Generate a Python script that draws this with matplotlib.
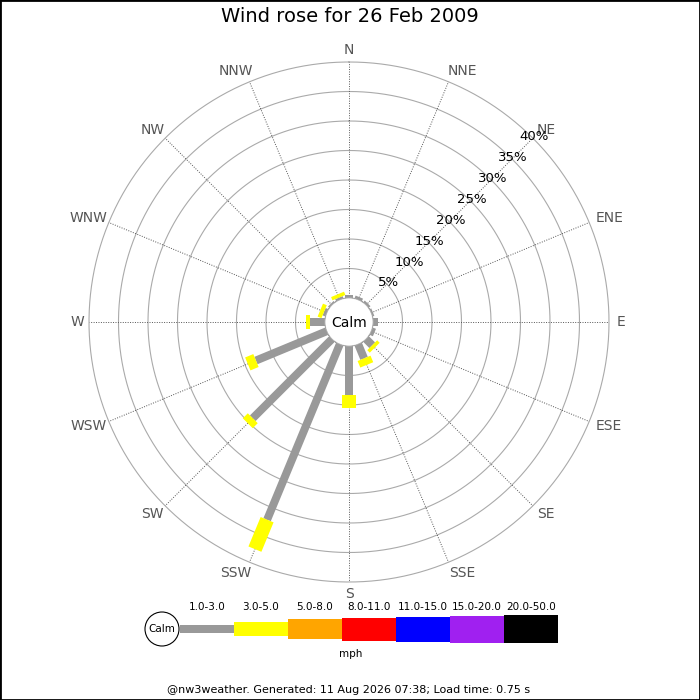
import numpy as np
import matplotlib.pyplot as plt
from matplotlib.patches import Circle, Rectangle
from matplotlib.transforms import offset_copy

# wind rose data, % of the day per direction and speed band
directions = ['N', 'NNE', 'NE', 'ENE', 'E', 'ESE', 'SE', 'SSE',
              'S', 'SSW', 'SW', 'WSW', 'W', 'WNW', 'NW', 'NNW']
pct_1_3 = [0.5, 0.5, 0.4, 0.3, 0.9, 0.6, 1.5, 2.6, 8.3, 32.2, 19.0, 13.0, 2.5, 0.5, 0.3, 0.4]
pct_3_5 = [0, 0, 0, 0, 0, 0, 0.6, 1.2, 2.2, 5.4, 1.2, 1.5, 0.7, 0.7, 0, 0.6]
pct_5_8 = [0] * 16
pct_8_11 = [0] * 16
pct_11_15 = [0] * 16
pct_15_20 = [0] * 16
pct_20_50 = [0] * 16

band_labels = ['1.0-3.0', '3.0-5.0', '5.0-8.0', '8.0-11.0', '11.0-15.0', '15.0-20.0', '20.0-50.0']
band_colors = ['#999999', '#ffff00', '#ffa500', '#ff0000', '#0000ff', '#a020f0', '#000000']
band_px = [8, 14, 20, 23, 25, 27, 28]
ring_pcts = [5, 10, 15, 20, 25, 30, 35, 40]

freq = [pct_1_3, pct_3_5, pct_5_8, pct_8_11, pct_11_15, pct_15_20, pct_20_50]

DPI = 100
PT = 72.0 / DPI           # points per pixel
PX_PER_PCT = 5.9
CALM_PX = 24
CX, CY = 349, 322
R_OUT = CALM_PX + 40 * PX_PER_PCT

fig = plt.figure(figsize=(7, 7), dpi=DPI)
fig.patch.set_facecolor('white')

ax = fig.add_axes([(CX - R_OUT) / 700, (700 - CY - R_OUT) / 700,
                   2 * R_OUT / 700, 2 * R_OUT / 700], projection='polar')
ax.set_theta_zero_location('N')
ax.set_theta_direction(-1)
ax.set_ylim(0, 40)
ax.set_rorigin(-CALM_PX / PX_PER_PCT)
ax.set_xticks([])
ax.set_yticks([])
ax.grid(False)
for s in ax.spines.values():
    s.set_visible(False)

thetas = np.deg2rad(np.arange(16) * 22.5)
circ = np.linspace(0, 2 * np.pi, 400)

# rings
for r in ring_pcts:
    ax.plot(circ, np.full_like(circ, r), color='#aaaaaa', lw=0.8, zorder=1, clip_on=False)

# spokes + direction labels
for t, name in zip(thetas, directions):
    ax.plot([t, t], [0, 40], color='#555555', lw=0.7, ls=(0, (1, 1.5)), zorder=1)
    sx = np.sin(t)
    side = 0 if abs(sx) < 0.01 else np.sign(sx)
    trans = offset_copy(ax.transData, fig=fig, x=side * (len(name) - 1) * 4.5, y=0, units='dots')
    ax.text(t, 42.0, name, color='#555555', fontsize=10, transform=trans,
            ha='center', va='center', clip_on=False)

# percentage labels along NE
for r in ring_pcts:
    ax.text(np.deg2rad(45), r + 0.3, f'{r}%', fontsize=9.5, color='black',
            ha='center', va='center', zorder=3)

# bars
for i, t in enumerate(thetas):
    start = 0
    for b in range(len(freq)):
        v = freq[b][i]
        if v > 0:
            ax.plot([t, t], [start, start + v], color=band_colors[b],
                    lw=band_px[b] * PT, solid_capstyle='butt', zorder=4 + b)
            start += v

# overlay in pixel units for calm circle, legend and text
ov = fig.add_axes([0, 0, 1, 1])
ov.set_xlim(0, 700)
ov.set_ylim(700, 0)
ov.axis('off')

ov.add_patch(Circle((CX, CY), CALM_PX, facecolor='white', edgecolor='#bbbbbb', lw=0.6, zorder=10))
ov.text(CX, CY + 1, 'Calm', fontsize=10, ha='center', va='center', zorder=11)

ov.text(350, 17, 'Wind rose for 26 Feb 2009', fontsize=14, ha='center', va='center')

# legend
ly = 629
ov.add_patch(Circle((162, ly), 17, facecolor='white', edgecolor='black', lw=0.8))
ov.text(162, ly, 'Calm', fontsize=7.5, ha='center', va='center')
x0 = 180
seg_w = 54
for b, (lab, col, h) in enumerate(zip(band_labels, band_colors, band_px)):
    ov.add_patch(Rectangle((x0 + b * seg_w, ly - h / 2), seg_w, h, facecolor=col, edgecolor='none'))
    ov.text(x0 + b * seg_w + seg_w / 2, 607, lab, fontsize=7.5, ha='center', va='center')
ov.text(351, 654, 'mph', fontsize=7.5, ha='center', va='center')

ov.text(349, 690, '@nw3weather. Generated: 11 Aug 2026 07:38; Load time: 0.75 s',
        fontsize=8, ha='center', va='center')

fig.patches.append(Rectangle((0, 0), 1, 1, transform=fig.transFigure, fill=False,
                             edgecolor='black', lw=2))

fig.savefig('out.png', dpi=DPI)
